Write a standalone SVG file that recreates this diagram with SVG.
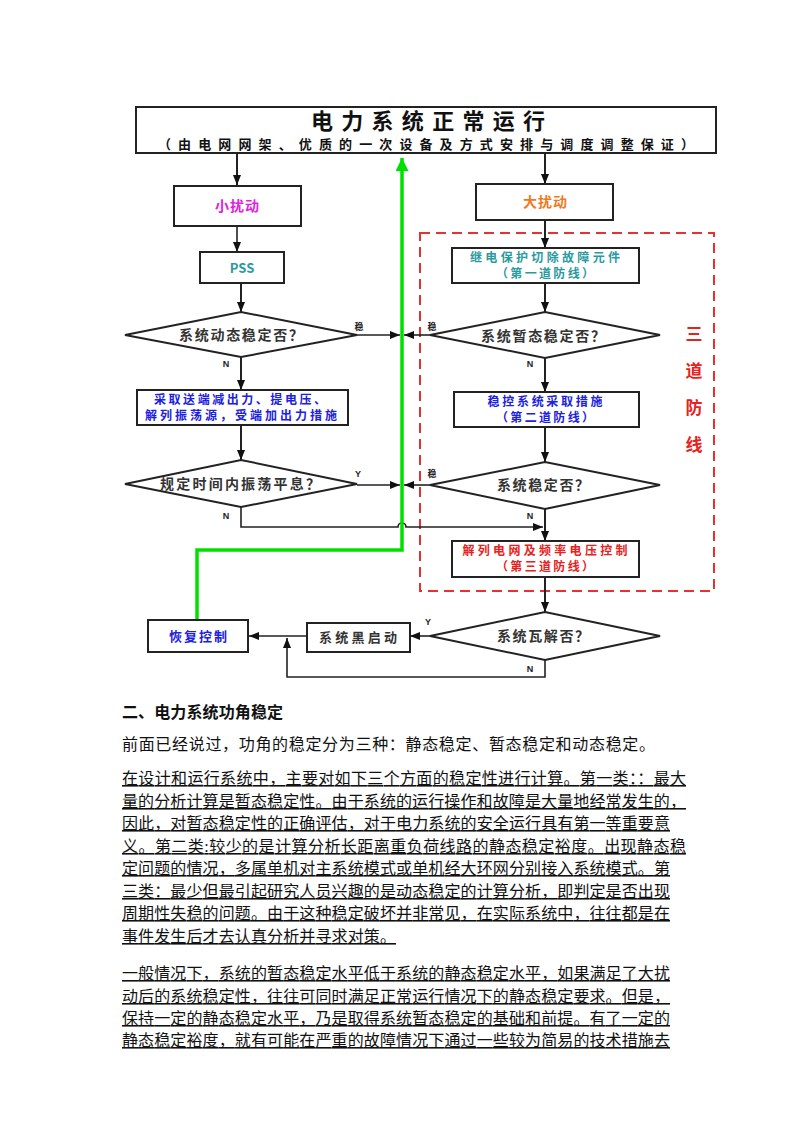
<svg xmlns="http://www.w3.org/2000/svg" width="800" height="1132" viewBox="0 0 800 1132">
<style>
.box{fill:#fff;stroke:#222;stroke-width:2}
.dia{fill:#fff;stroke:#222;stroke-width:2}
.t{font-family:"Noto Sans CJK SC","Liberation Sans",sans-serif;font-weight:bold;text-anchor:middle}
.n{font-size:14px;fill:#333}
.lbl{font-family:"Liberation Sans","Noto Sans CJK SC",sans-serif;font-weight:bold;font-size:9px;fill:#222;text-anchor:middle}
.c{fill:none;stroke:#222;stroke-width:1.6}
.ca{fill:none;stroke:#222;stroke-width:2}
.body{font-family:"Liberation Serif","Noto Sans CJK SC",serif;font-size:16px;fill:#111}
.u{text-decoration:underline}
</style>
<defs>
<marker id="ah" viewBox="0 0 10 8" refX="10" refY="4" markerWidth="10" markerHeight="8" markerUnits="userSpaceOnUse" orient="auto"><path d="M0,0 L10,4 L0,8 z" fill="#111"/></marker>
<marker id="ahg" viewBox="0 0 12 12" refX="12" refY="6" markerWidth="13" markerHeight="13" markerUnits="userSpaceOnUse" orient="auto"><path d="M0,0 L12,6 L0,12 z" fill="#00e000"/></marker>
</defs>

<rect x="420" y="233" width="294" height="358" fill="none" stroke="#e83030" stroke-width="2" stroke-dasharray="10,6"/>

<g id="connectors">
<path class="ca" d="M237,153 V185" marker-end="url(#ah)"/>
<path class="ca" d="M545,153 V184" marker-end="url(#ah)"/>
<path class="c" d="M237,226 V252" marker-end="url(#ah)"/>
<path class="ca" d="M241,283 V312" marker-end="url(#ah)"/>
<path class="c" d="M357,335 H400" marker-end="url(#ah)"/>
<path class="ca" d="M241,357 V390" marker-end="url(#ah)"/>
<path class="ca" d="M241,425 V460" marker-end="url(#ah)"/>
<path class="c" d="M357,485 H400" marker-end="url(#ah)"/>
<path class="c" d="M241,507 V527 H398 A4,4 0 0 1 406,527 H543" marker-end="url(#ah)"/>
<path class="ca" d="M545,220 V248" marker-end="url(#ah)"/>
<path class="ca" d="M545,283 V312" marker-end="url(#ah)"/>
<path class="c" d="M430,335 H404" marker-end="url(#ah)"/>
<path class="ca" d="M545,358 V392" marker-end="url(#ah)"/>
<path class="ca" d="M545,427 V462" marker-end="url(#ah)"/>
<path class="c" d="M430,485 H404" marker-end="url(#ah)"/>
<path class="ca" d="M545,509 V541" marker-end="url(#ah)"/>
<path class="ca" d="M545,577 V612" marker-end="url(#ah)"/>
<path class="c" d="M430,636 H410" marker-end="url(#ah)"/>
<path class="c" d="M307,636 H249" marker-end="url(#ah)"/>
<path class="c" d="M545,660 V677 H287 V638" marker-end="url(#ah)"/>
<path d="M197,620 V550 H402 V158" fill="none" stroke="#00e000" stroke-width="3.5" marker-end="url(#ahg)"/>
<text class="lbl" x="359" y="330">稳</text>
<text class="lbl" x="432" y="330">稳</text>
<text class="lbl" x="226" y="367">N</text>
<text class="lbl" x="530" y="367">N</text>
<text class="lbl" x="358" y="477">Y</text>
<text class="lbl" x="432" y="477">稳</text>
<text class="lbl" x="226" y="519">N</text>
<text class="lbl" x="530" y="519">N</text>
<text class="lbl" x="428" y="625">Y</text>
<text class="lbl" x="530" y="672">N</text>
</g>

<g id="top">
<rect class="box" x="136" y="107" width="580" height="46"/>
<text class="t" x="428" y="129" font-size="22" fill="#111" textLength="234" lengthAdjust="spacing">电力系统正常运行</text>
<text class="t" x="426" y="149" font-size="13" fill="#111" textLength="536" lengthAdjust="spacing">（由电网网架、优质的一次设备及方式安排与调度调整保证）</text>
</g>
<g id="small">
<rect class="box" x="174" y="186" width="127" height="40"/>
<text class="t" x="237" y="211" font-size="14" fill="#e020e0" textLength="44" lengthAdjust="spacing">小扰动</text>
</g>
<g id="large">
<rect class="box" x="476" y="184" width="137" height="36"/>
<text class="t" x="545" y="207" font-size="14" fill="#f07820" textLength="44" lengthAdjust="spacing">大扰动</text>
</g>
<g id="pss">
<rect class="box" x="200" y="252" width="84" height="31"/>
<text class="t" x="242" y="273" font-size="13" fill="#2a9a9e">PSS</text>
</g>
<g id="relay">
<rect class="box" x="452" y="248" width="187" height="35"/>
<text class="t" x="545" y="262" font-size="12" fill="#2a9a9e" textLength="150" lengthAdjust="spacing">继电保护切除故障元件</text>
<text class="t" x="545" y="278" font-size="12" fill="#2a9a9e" textLength="98" lengthAdjust="spacing">（第一道防线）</text>
</g>
<g id="d1">
<polygon class="dia" points="125,335 241,312 357,335 241,357"/>
<text class="t n" x="241" y="340" textLength="124" lengthAdjust="spacing">系统动态稳定否？</text>
</g>
<g id="d3">
<polygon class="dia" points="430,335 545,312 660,335 545,358"/>
<text class="t n" x="543" y="341" textLength="124" lengthAdjust="spacing">系统暂态稳定否？</text>
</g>
<g id="measures">
<rect class="box" x="137" y="390" width="211" height="35"/>
<text class="t" x="240" y="404" font-size="12" fill="#2020e0" textLength="172" lengthAdjust="spacing">采取送端减出力、提电压、</text>
<text class="t" x="241" y="420" font-size="12" fill="#2020e0" textLength="192" lengthAdjust="spacing">解列振荡源，受端加出力措施</text>
</g>
<g id="stab">
<rect class="box" x="454" y="392" width="185" height="35"/>
<text class="t" x="545" y="406" font-size="12" fill="#2020e0" textLength="115" lengthAdjust="spacing">稳控系统采取措施</text>
<text class="t" x="545" y="422" font-size="12" fill="#2020e0" textLength="98" lengthAdjust="spacing">（第二道防线）</text>
</g>
<g id="d2">
<polygon class="dia" points="125,484 241,460 357,484 241,507"/>
<text class="t n" x="240" y="489" textLength="160" lengthAdjust="spacing">规定时间内振荡平息？</text>
</g>
<g id="d4">
<polygon class="dia" points="430,485 545,462 660,485 545,509"/>
<text class="t n" x="543" y="490" textLength="92" lengthAdjust="spacing">系统稳定否？</text>
</g>
<g id="split">
<rect class="box" x="452" y="541" width="187" height="36"/>
<text class="t" x="545" y="555" font-size="12" fill="#e82020" textLength="165" lengthAdjust="spacing">解列电网及频率电压控制</text>
<text class="t" x="545" y="571" font-size="12" fill="#e82020" textLength="98" lengthAdjust="spacing">（第三道防线）</text>
</g>
<g id="d5">
<polygon class="dia" points="430,636 545,612 660,636 545,660"/>
<text class="t n" x="543" y="641" textLength="92" lengthAdjust="spacing">系统瓦解否？</text>
</g>
<g id="blackstart">
<rect class="box" x="307" y="623" width="103" height="29"/>
<text class="t" x="358" y="642" font-size="13" fill="#333" textLength="78" lengthAdjust="spacing">系统黑启动</text>
</g>
<g id="restore">
<rect class="box" x="148" y="620" width="100" height="32"/>
<text class="t" x="198" y="641" font-size="13" fill="#2020e0" textLength="58" lengthAdjust="spacing">恢复控制</text>
</g>
<g id="threelines">
<text class="t" x="694" y="340" font-size="17" fill="#e82020">三</text>
<text class="t" x="694" y="377" font-size="17" fill="#e82020">道</text>
<text class="t" x="694" y="414" font-size="17" fill="#e82020">防</text>
<text class="t" x="694" y="451" font-size="17" fill="#e82020">线</text>
</g>

<g id="text">
<text class="body" x="122" y="718" font-weight="bold" textLength="161" lengthAdjust="spacing">二、电力系统功角稳定</text>
<text class="body" x="122" y="750" textLength="533" lengthAdjust="spacing">前面已经说过，功角的稳定分为三种：静态稳定、暂态稳定和动态稳定。</text>
<text class="body u" x="122" y="784" textLength="564" lengthAdjust="spacing">在设计和运行系统中，主要对如下三个方面的稳定性进行计算。第一类：：最大</text>
<text class="body u" x="122" y="807" textLength="564" lengthAdjust="spacing">量的分析计算是暂态稳定性。由于系统的运行操作和故障是大量地经常发生的，</text>
<text class="body u" x="122" y="829" textLength="548" lengthAdjust="spacing">因此，对暂态稳定性的正确评估，对于电力系统的安全运行具有第一等重要意</text>
<text class="body u" x="122" y="852" textLength="564" lengthAdjust="spacing">义。第二类:较少的是计算分析长距离重负荷线路的静态稳定裕度。出现静态稳</text>
<text class="body u" x="122" y="874" textLength="548" lengthAdjust="spacing">定问题的情况，多属单机对主系统模式或单机经大环网分别接入系统模式。第</text>
<text class="body u" x="122" y="897" textLength="548" lengthAdjust="spacing">三类：最少但最引起研究人员兴趣的是动态稳定的计算分析，即判定是否出现</text>
<text class="body u" x="122" y="919" textLength="548" lengthAdjust="spacing">周期性失稳的问题。由于这种稳定破坏并非常见，在实际系统中，往往都是在</text>
<text class="body u" x="122" y="942" textLength="274" lengthAdjust="spacing">事件发生后才去认真分析并寻求对策。</text>
<text class="body u" x="122" y="979" textLength="548" lengthAdjust="spacing">一般情况下，系统的暂态稳定水平低于系统的静态稳定水平，如果满足了大扰</text>
<text class="body u" x="122" y="1002" textLength="548" lengthAdjust="spacing">动后的系统稳定性，往往可同时满足正常运行情况下的静态稳定要求。但是，</text>
<text class="body u" x="122" y="1024" textLength="548" lengthAdjust="spacing">保持一定的静态稳定水平，乃是取得系统暂态稳定的基础和前提。有了一定的</text>
<text class="body u" x="122" y="1046" textLength="548" lengthAdjust="spacing">静态稳定裕度，就有可能在严重的故障情况下通过一些较为简易的技术措施去</text>
</g>
</svg>
